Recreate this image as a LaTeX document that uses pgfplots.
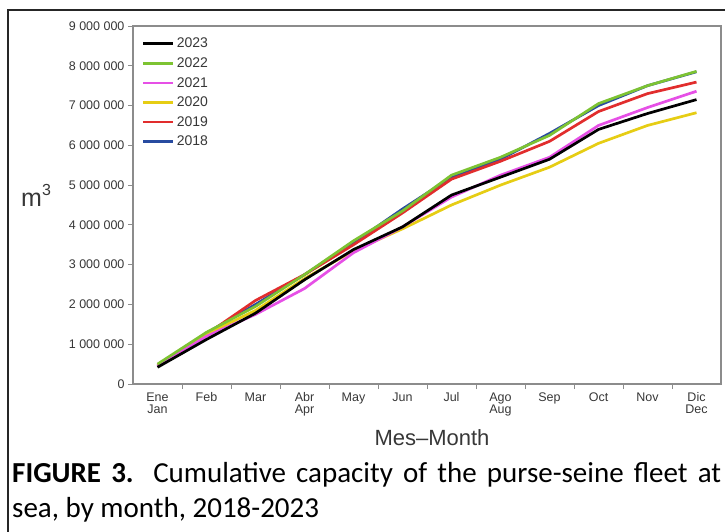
\documentclass[border=0pt]{standalone}
\usepackage{fontspec}
\setmainfont{Carlito}
\newfontfamily\arial{Liberation Sans}
\usepackage{pgfplots}
\pgfplotsset{compat=1.18}
\definecolor{c23}{RGB}{0,0,0}
\definecolor{c22}{RGB}{125,195,50}
\definecolor{c21}{RGB}{230,80,230}
\definecolor{c20}{RGB}{230,205,20}
\definecolor{c19}{RGB}{225,45,45}
\definecolor{c18}{RGB}{40,75,160}
\definecolor{axgray}{RGB}{140,140,140}
\definecolor{txt}{RGB}{55,55,55}
\begin{document}
\begin{tikzpicture}[x=1pt,y=1pt]
\useasboundingbox (0,0) rectangle (725,531);
\clip (0,0) rectangle (725,531);
\draw[line width=2pt, black!85] (8,-20) -- (8,521) -- (760,521);
\begin{axis}[
  at={(133pt,147pt)}, anchor=south west,
  width=588pt, height=358pt, scale only axis,
  xmin=0.5, xmax=12.5, ymin=0, ymax=9000000,
  axis line style={axgray, line width=1.3pt},
  tick align=outside,
  xtick={1,...,12},
  xticklabels={{Ene\\Jan},Feb,Mar,{Abr\\Apr},May,Jun,Jul,{Ago\\Aug},Sep,Oct,Nov,{Dic\\Dec}},
  major x tick style={draw=none},
  minor xtick={1.5,2.5,...,11.5},
  minor tick length=5pt,
  major tick length=5pt,
  tick style={axgray, line width=1pt},
  xtick pos=bottom, ytick pos=left,
  ytick={0,1000000,2000000,3000000,4000000,5000000,6000000,7000000,8000000,9000000},
  yticklabels={0,1 000 000,2 000 000,3 000 000,4 000 000,5 000 000,6 000 000,7 000 000,8 000 000,9 000 000},
  yticklabel style={font=\arial\fontsize{12.5}{14}\selectfont, text=txt},
  xticklabel style={font=\arial\fontsize{12.5}{12}\selectfont, text=txt, align=center, anchor=north},
  scaled y ticks=false,
  reverse legend,
  legend style={at={(0.01,0.978)}, anchor=north west, draw=none, fill=none,
    font=\arial\fontsize{14}{15}\selectfont, text=txt, row sep=4.3pt},
  legend cell align=left,
  legend image code/.code={\draw[#1, line width=2.7pt] (0pt,0pt) -- (30pt,0pt);},
]
\addplot[c18, line width=2.7pt, line join=round] coordinates {(1,450000)(2,1280000)(3,2000000)(4,2750000)(5,3550000)(6,4400000)(7,5200000)(8,5650000)(9,6300000)(10,7000000)(11,7500000)(12,7850000)};
\addlegendentry{2018}
\addplot[c19, line width=2.7pt, line join=round] coordinates {(1,450000)(2,1250000)(3,2100000)(4,2750000)(5,3500000)(6,4300000)(7,5150000)(8,5600000)(9,6100000)(10,6850000)(11,7300000)(12,7590000)};
\addlegendentry{2019}
\addplot[c20, line width=2.7pt, line join=round] coordinates {(1,480000)(2,1250000)(3,1850000)(4,2650000)(5,3350000)(6,3900000)(7,4500000)(8,5000000)(9,5450000)(10,6050000)(11,6500000)(12,6820000)};
\addlegendentry{2020}
\addplot[c21, line width=2.7pt, line join=round] coordinates {(1,450000)(2,1200000)(3,1750000)(4,2400000)(5,3300000)(6,3950000)(7,4700000)(8,5250000)(9,5700000)(10,6500000)(11,6950000)(12,7360000)};
\addlegendentry{2021}
\addplot[c22, line width=2.7pt, line join=round] coordinates {(1,500000)(2,1300000)(3,1950000)(4,2750000)(5,3600000)(6,4350000)(7,5250000)(8,5700000)(9,6250000)(10,7050000)(11,7500000)(12,7860000)};
\addlegendentry{2022}
\addplot[c23, line width=2.7pt, line join=round] coordinates {(1,420000)(2,1120000)(3,1780000)(4,2620000)(5,3380000)(6,3950000)(7,4750000)(8,5200000)(9,5650000)(10,6400000)(11,6800000)(12,7150000)};
\addlegendentry{2023}
\end{axis}
\node[anchor=base, inner sep=0, font=\arial\fontsize{22}{24}\selectfont, text=txt] at (432,86) {Mes–Month};
\node[anchor=base west, inner sep=0, font=\arial, text=txt] at (21,325) {\fontsize{25}{28}\selectfont m\raisebox{0.42em}{\fontsize{16}{18}\selectfont 3}};
\node[anchor=base west, inner sep=0] at (12,49) {\fontsize{29}{34}\selectfont\makebox[709pt][s]{\textbf{FIGURE 3.} Cumulative capacity of the purse-seine fleet at}};
\node[anchor=base west, inner sep=0] at (12,14) {\fontsize{29}{34}\selectfont sea, by month, 2018-2023};
\end{tikzpicture}
\end{document}
